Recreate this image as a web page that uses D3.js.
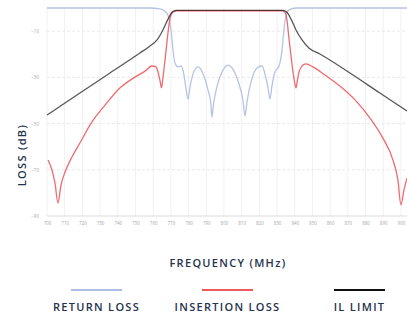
<!DOCTYPE html>
<html lang="en">
<head>
<meta charset="UTF-8">
<title>filter response</title>
<style>
  body { margin: 0; background: #fff; }
  svg { display: block; }
  text { font-family: "Open Sans", sans-serif; }
</style>
</head>
<body>
<svg id="chart"></svg>
<script src="https://d3js.org/d3.v7.min.js"></script>
<script>
// frequency ticks (MHz) and loss ticks (dB)
var freqTicks = d3.range(700, 901, 10);
var lossTicks = [-10, -30, -50, -70, -90];

// [frequency MHz, loss dB]
var ilLimit = [
  [700, -46.3], [718.6, -36.8], [735.6, -28.1], [752.5, -19.5], [758.2, -16.4],
  [762.2, -13.8], [765.5, -9.5], [768.4, -4.8], [770.6, -1.8], [773, -1.0],
  [833.3, -1.0], [835.6, -1.8], [837.9, -4.8], [840.7, -9.5], [844.1, -13.8],
  [848, -17.3], [854.2, -19.9], [871.2, -28.1], [888.1, -36.8], [903.4, -44.6]
];

var insertionLoss = [
  [700.6, -65.8], [702.8, -70.1], [704.5, -75.7], [706.2, -84.4], [707.9, -76.6],
  [710.2, -71], [714.1, -64.5], [718.6, -58.4], [725.4, -49.3], [732.8, -42],
  [741.2, -34.6], [749.7, -29.9], [755.4, -27.3], [759.3, -25.1], [761.6, -25.5],
  [762.7, -27.7], [763.8, -31.2], [764.7, -34.6], [765.5, -30.3], [766.7, -22.5],
  [767.8, -14.7], [768.9, -7.4], [770.1, -3.0], [771.8, -1.5], [774, -1.2],
  [832.8, -1.2], [834.5, -1.8], [835.6, -5.2], [836.7, -13], [837.9, -20.8],
  [839, -27.7], [840.1, -32.9], [840.7, -34.6], [841.5, -31.2], [842.4, -27.7],
  [844.1, -25.1], [846.3, -24.2], [850.3, -25.5], [857.1, -29], [865.5, -33.8],
  [875.2, -40.7], [882.5, -47.6], [889.8, -56.3], [895.5, -65.8], [898.3, -74.4],
  [900, -85.2], [901.7, -78.8], [903.4, -73.6]
];

var returnLoss = [
  [700, 0], [758.2, 0], [763.8, -0.4], [767.2, -1.7], [768.9, -4.3],
  [770.1, -9.5], [771.2, -18.2], [772.3, -23.8], [774, -25.5], [775.7, -25.1],
  [777.4, -29], [778.5, -34.6], [779.7, -39.4], [780.8, -34.2], [782.5, -28.6],
  [785.3, -25.5], [788.7, -29.4], [791, -35.5], [792.7, -42], [793.2, -47.2],
  [794.1, -41.5], [796.1, -33.8], [798.9, -27.7], [802.3, -24.7], [805.7, -27.3],
  [808.5, -32.9], [810.7, -39.8], [811.9, -46.7], [813, -40.7], [815.3, -32],
  [818.7, -26], [821.5, -25.1], [823.7, -30.3], [824.9, -34.6], [826, -39.4],
  [827.1, -33.8], [828.8, -27.7], [831.1, -25.1], [832.8, -18.2], [833.9, -9.5],
  [835, -3.5], [836.7, -0.9], [840.7, 0], [903.4, 0]
];

var series = [
  { name: 'RETURN LOSS', color: '#aebde3', values: returnLoss },
  { name: 'INSERTION LOSS', color: '#ec5a5e', values: insertionLoss },
  { name: 'IL LIMIT', color: '#111111', values: ilLimit }
];

var width = 407, height = 318;
var svg = d3.select('#chart').attr('width', width).attr('height', height);

var x = d3.scaleLinear().domain([700, 904]).range([47, 408]);
var y = d3.scaleLinear().domain([-90, 0]).range([216, 8]);

// vertical grid
svg.append('g')
  .selectAll('line').data(freqTicks).enter().append('line')
  .attr('x1', d => x(d)).attr('x2', d => x(d))
  .attr('y1', y(0)).attr('y2', y(-90))
  .attr('stroke', '#f1f1f1').attr('stroke-width', 1);

// horizontal grid
svg.append('g')
  .selectAll('line').data(lossTicks.slice(0, 4)).enter().append('line')
  .attr('x1', x(700)).attr('x2', width)
  .attr('y1', d => y(d)).attr('y2', d => y(d))
  .attr('stroke', '#e9e9e9').attr('stroke-dasharray', '3,2');

// bottom axis line
svg.append('line')
  .attr('x1', x(700)).attr('x2', width)
  .attr('y1', y(-90)).attr('y2', y(-90))
  .attr('stroke', '#dcdcdc');

// tick labels
var xAxis = d3.axisBottom(x).tickValues(freqTicks).tickSize(0).tickPadding(6);
var gx = svg.append('g').attr('transform', 'translate(0,' + y(-90) + ')').call(xAxis);
gx.select('.domain').remove();
gx.selectAll('text').attr('fill', '#a5a5a5').style('font-size', '4.5px');

var yAxis = d3.axisLeft(y).tickValues(lossTicks).tickSize(0).tickPadding(6);
var gy = svg.append('g').attr('transform', 'translate(' + 45 + ',0)').call(yAxis);
gy.select('.domain').remove();
gy.selectAll('text').attr('fill', '#a5a5a5').style('font-size', '4.5px');

// curves
var line = d3.line()
  .x(d => x(d[0]))
  .y(d => y(d[1]))
  .curve(d3.curveMonotoneX);

svg.append('g')
  .selectAll('path').data(series).enter().append('path')
  .attr('d', d => line(d.values))
  .attr('fill', 'none')
  .attr('stroke', d => d.color)
  .attr('stroke-width', 1.3)
  .attr('stroke-opacity', d => d.name == 'IL LIMIT' ? 0.7 : 0.9);

// axis titles
function title(sel) {
  sel.attr('text-anchor', 'middle')
    .attr('fill', '#25324d')
    .style('font-size', '11px').style('font-weight', 600).style('letter-spacing', '1.3px');
}

svg.append('text')
  .attr('x', 228).attr('y', 267)
  .call(title)
  .text('FREQUENCY (MHz)');

svg.append('text')
  .attr('transform', 'translate(26,155) rotate(-90)')
  .call(title)
  .text('LOSS (dB)');

// legend
var legendX = [96.5, 227.5, 359.5];
var lg = svg.append('g').selectAll('g').data(series).enter().append('g')
  .attr('transform', (d, i) => 'translate(' + legendX[i] + ',0)');
lg.append('line')
  .attr('x1', -25.5).attr('x2', 25.5).attr('y1', 290).attr('y2', 290)
  .attr('stroke', d => d.color).attr('stroke-width', 2.2);
lg.append('text')
  .attr('y', 311)
  .call(title)
  .text(d => d.name);
</script>
</body>
</html>
